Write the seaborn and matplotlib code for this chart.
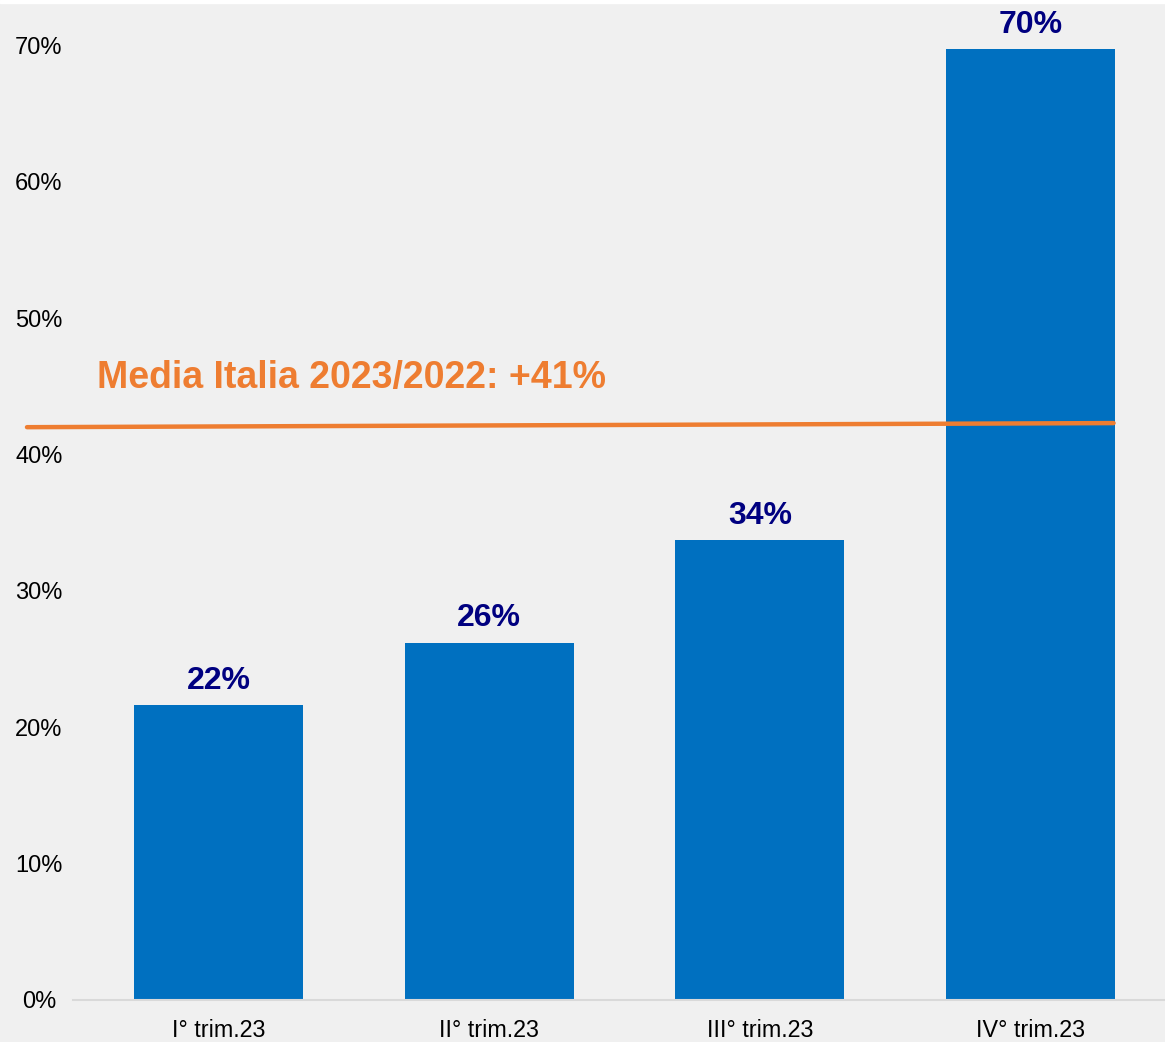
import pandas as pd
import matplotlib.pyplot as plt
import seaborn as sns
from matplotlib.ticker import PercentFormatter

# --- DATI ---
trimestri = ['I° trim.23', 'II° trim.23', 'III° trim.23', 'IV° trim.23']
valori = [21.6, 26.2, 33.7, 69.7]
etichette = ['22%', '26%', '34%', '70%']
media_inizio = 42.0
media_fine = 42.3
media_testo = 'Media Italia 2023/2022: +41%'

BLU = '#0070C0'
NAVY = '#000080'
ARANCIO = '#EE7D31'
SFONDO = '#F0F0F0'


def genera_grafico():
    sns.set_theme(style="white")
    plt.rcParams['font.family'] = ['Liberation Sans', 'DejaVu Sans']

    df = pd.DataFrame({'trimestre': trimestri, 'valore': valori})

    fig = plt.figure(figsize=(11.65, 10.42), dpi=100, facecolor=SFONDO)
    # sottile striscia bianca in alto come nell'originale
    fig.patches.append(plt.Rectangle((0, 1 - 3 / 1042), 1, 3 / 1042,
                                     transform=fig.transFigure,
                                     color='white', zorder=0))
    ax = fig.add_axes([73 / 1165, 42 / 1042, 1092 / 1165, 0.9424])
    ax.set_facecolor(SFONDO)

    sns.barplot(data=df, x='trimestre', y='valore', color=BLU,
                width=0.625, saturation=1, linewidth=0, ax=ax)

    ax.bar_label(ax.containers[0], labels=etichette, padding=7,
                 color=NAVY, fontsize=23, fontweight='bold')

    # linea media Italia
    ax.plot([-0.708, 3.307], [media_inizio, media_fine], color=ARANCIO,
            linewidth=3.2, clip_on=False, zorder=5)
    ax.text(-0.449, 44.9, media_testo, color=ARANCIO, fontsize=27,
            fontweight='bold', va='baseline', ha='left')

    ax.set_xlim(-0.538, 3.497)
    ax.set_ylim(0, 72)
    ax.set_yticks(range(0, 71, 10))
    ax.yaxis.set_major_formatter(PercentFormatter(100, decimals=0))
    ax.set_xlabel('')
    ax.set_ylabel('')

    ax.tick_params(axis='y', length=0, pad=24.5, labelsize=17, colors='black')
    for lab in ax.get_yticklabels():
        lab.set_horizontalalignment('center')
    ax.tick_params(axis='x', length=0, pad=14, labelsize=16.8, colors='black')

    for lato in ['top', 'right', 'left']:
        ax.spines[lato].set_visible(False)
    ax.spines['bottom'].set_color('#D9D9D9')
    ax.spines['bottom'].set_linewidth(1.5)

    plt.savefig('out.png', dpi=100, facecolor=SFONDO)
    plt.close()


if __name__ == "__main__":
    genera_grafico()
